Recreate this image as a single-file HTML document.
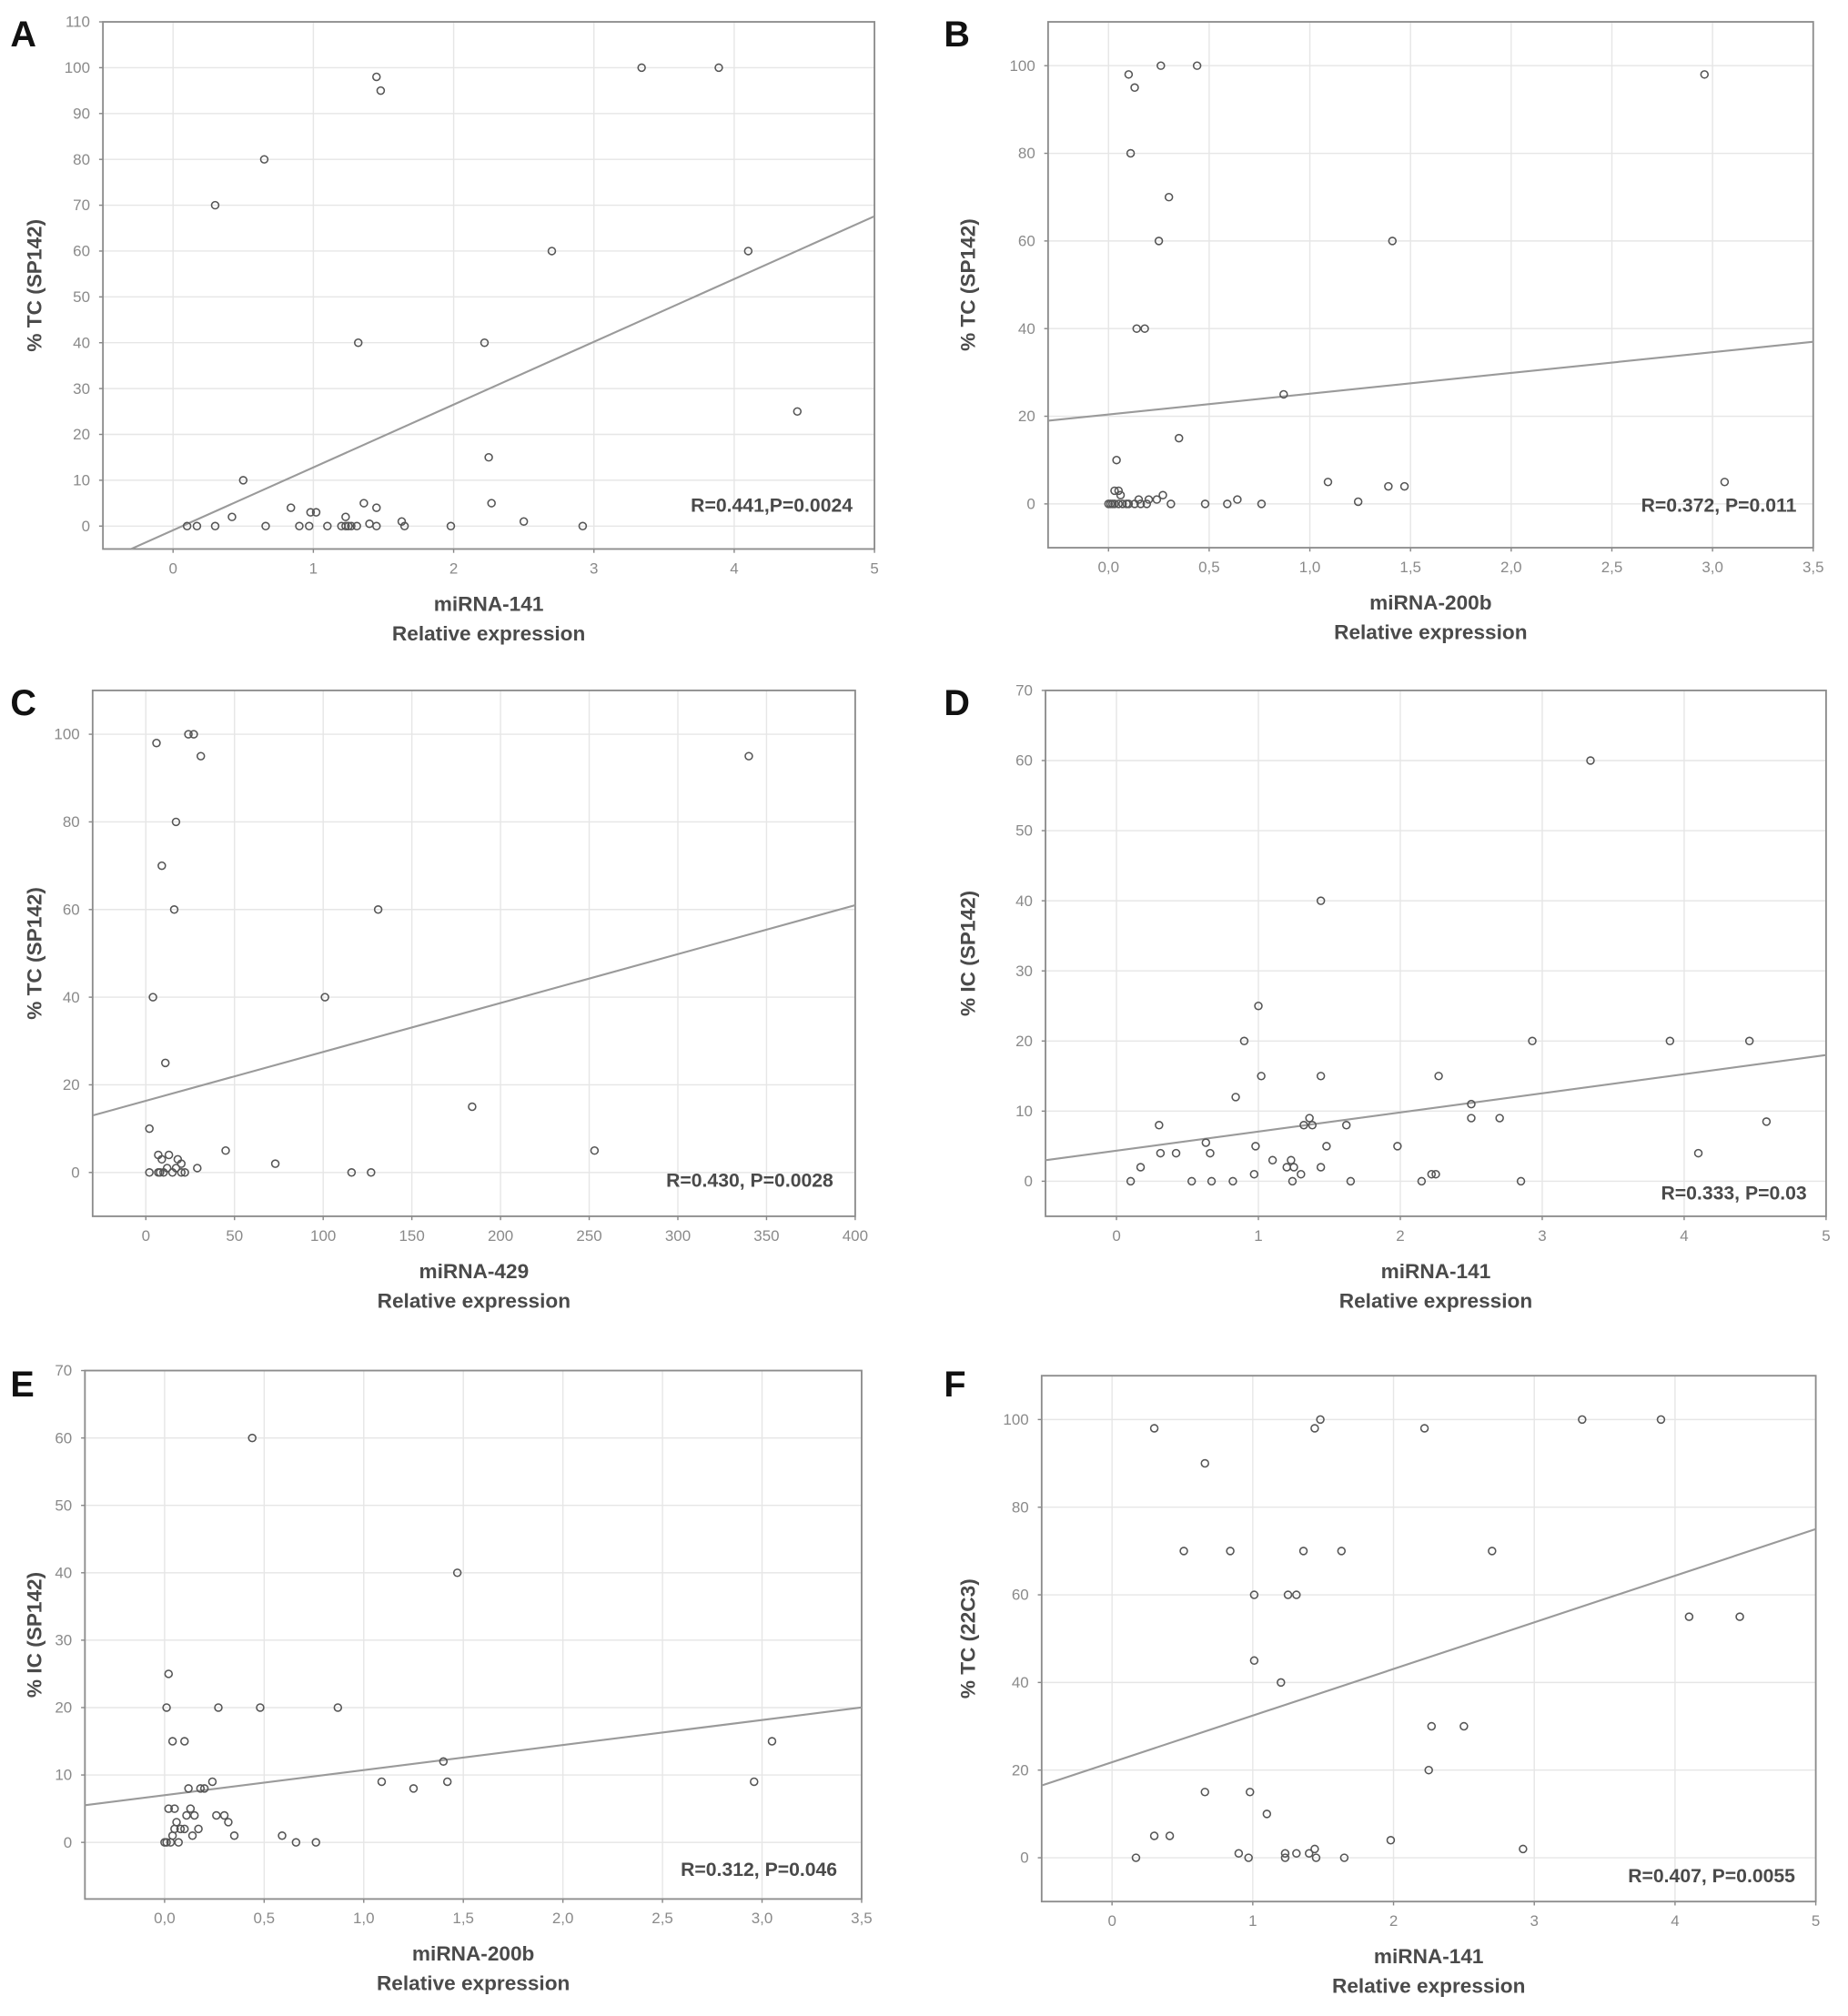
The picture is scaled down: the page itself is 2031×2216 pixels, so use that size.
<!DOCTYPE html>
<html><head><meta charset="utf-8">
<style>
html,body{margin:0;padding:0;background:#fff;}
svg{display:block;}
text{font-family:"Liberation Sans",sans-serif;}
</style></head>
<body>
<svg id="fig" width="2031" height="2216" viewBox="0 0 1437 1568" xmlns="http://www.w3.org/2000/svg"></svg>
<script>
// ---- Data arrays ----
const aX=[0.1,0.17,0.3,0.3,0.42,0.5,0.65,0.66,0.84,0.9,0.97,0.98,1.02,1.1,1.2,1.23,1.23,1.25,1.27,1.31,1.32,1.36,1.4,1.45,1.45,1.45,1.48,1.63,1.65,1.98,2.22,2.25,2.27,2.5,2.7,2.92,3.34,3.89,4.1,4.45];
const aY=[0,0,0,70,2,10,80,0,4,0,0,3,3,0,0,2,0,0,0,0,40,5,0.5,98,4,0,95,1,0,0,40,15,5,1,60,0,100,100,60,25];
const bX=[0.1,0.13,0.26,0.44,0.11,0.3,0.25,1.41,0.14,0.18,0.87,0.35,0.04,0.03,0.05,0.06,0.0,0.01,0.02,0.03,0.05,0.07,0.09,0.1,0.13,0.15,0.16,0.19,0.2,0.24,0.27,0.31,0.48,0.59,0.64,0.76,1.09,1.24,1.39,1.47,2.96,3.06];
const bY=[98,95,100,100,80,70,60,60,40,40,25,15,10,3,3,2,0,0,0,0,0,0,0,0,0,1,0,0,1,1,2,0,0,0,1,0,5,0.5,4,4,98,5];
const cX=[2,2,4,6,7,7,8,9,9,10,11,12,13,15,16,17,17,18,20,20,22,24,27,29,31,45,73,101,116,127,131,184,253,340];
const cY=[10,0,40,98,0,4,0,3,70,0,25,1,4,0,60,80,1,3,2,0,0,100,100,1,95,5,2,40,0,0,60,15,5,95];
const dX=[0.1,0.17,0.3,0.31,0.42,0.53,0.63,0.66,0.67,0.82,0.84,0.9,0.97,0.98,1.0,1.02,1.1,1.2,1.23,1.24,1.25,1.3,1.32,1.36,1.38,1.44,1.44,1.44,1.48,1.62,1.65,1.98,2.15,2.22,2.25,2.27,2.5,2.5,2.7,2.85,2.93,3.34,3.9,4.1,4.46,4.58];
const dY=[0,2,8,4,4,0,5.5,4,0,0,12,20,1,5,25,15,3,2,3,0,2,1,8,9,8,40,15,2,5,8,0,5,0,1,1,15,9,11,9,0,20,60,20,4,20,8.5];
const eX=[0.01,0.02,0.04,0.1,0.02,0.0,0.01,0.03,0.04,0.05,0.05,0.06,0.07,0.08,0.1,0.11,0.12,0.13,0.14,0.15,0.17,0.18,0.2,0.24,0.26,0.27,0.3,0.32,0.35,0.44,0.48,0.59,0.66,0.76,0.87,1.09,1.25,1.4,1.42,1.47,2.96,3.05];
const eY=[20,25,15,15,5,0,0,0,1,5,2,3,0,2,2,4,8,5,1,4,2,8,8,9,4,20,4,3,1,60,20,1,0,0,20,9,8,12,9,40,9,15];
const fX=[0.17,0.3,0.3,0.41,0.51,0.66,0.66,0.84,0.9,0.97,0.98,1.01,1.01,1.1,1.2,1.23,1.23,1.25,1.31,1.31,1.36,1.4,1.44,1.44,1.45,1.48,1.63,1.65,1.98,2.22,2.25,2.27,2.5,2.7,2.92,3.34,3.9,4.1,4.46];
const fY=[0,98,5,5,70,90,15,70,1,0,15,60,45,10,40,1,0,60,60,1,70,1,98,2,0,100,70,0,4,98,20,30,30,70,2,100,100,55,55];
const aXT=[0,1,2,3,4,5], aYT=[0,10,20,30,40,50,60,70,80,90,100,110];
const bXT=[0,0.5,1,1.5,2,2.5,3,3.5], bYT=[0,20,40,60,80,100];
const cXT=[0,50,100,150,200,250,300,350,400], cYT=[0,20,40,60,80,100];
const dXT=[0,1,2,3,4,5], dYT=[0,10,20,30,40,50,60,70];
const eXT=[0,0.5,1,1.5,2,2.5,3,3.5], eYT=[0,10,20,30,40,50,60,70];
const fXT=[0,1,2,3,4,5], fYT=[0,20,40,60,80,100];
const fits={a:[-0.9,13.7],b:[20.4,4.74],c:[16.35,0.1116],d:[4.36,2.727],e:[7.0,3.72],f:[21.8,10.64]};

// ---- Panel layout (in viewBox units) ----
const panels=[
 {id:'a',L:'A',lx:8,ly:36,x0:80,x1:680,y0:17,y1:427,xr:[-0.5,5],yr:[-5,110],X:aX,Y:aY,XT:aXT,YT:aYT,dec:false,yl:'% TC (SP142)',xl:'miRNA-141',st:'R=0.441,P=0.0024',stx:663,sty:398},
 {id:'b',L:'B',lx:734,ly:36,x0:815,x1:1410,y0:17,y1:426,xr:[-0.3,3.5],yr:[-10,110],X:bX,Y:bY,XT:bXT,YT:bYT,dec:true,yl:'% TC (SP142)',xl:'miRNA-200b',st:'R=0.372, P=0.011',stx:1397,sty:398},
 {id:'c',L:'C',lx:8,ly:556,x0:72,x1:665,y0:537,y1:946,xr:[-30,400],yr:[-10,110],X:cX,Y:cY,XT:cXT,YT:cYT,dec:false,yl:'% TC (SP142)',xl:'miRNA-429',st:'R=0.430, P=0.0028',stx:648,sty:923},
 {id:'d',L:'D',lx:734,ly:556,x0:813,x1:1420,y0:537,y1:946,xr:[-0.5,5],yr:[-5,70],X:dX,Y:dY,XT:dXT,YT:dYT,dec:false,yl:'% IC (SP142)',xl:'miRNA-141',st:'R=0.333, P=0.03',stx:1405,sty:933},
 {id:'e',L:'E',lx:8,ly:1086,x0:66,x1:670,y0:1066,y1:1477,xr:[-0.4,3.5],yr:[-8.4,70],X:eX,Y:eY,XT:eXT,YT:eYT,dec:true,yl:'% IC (SP142)',xl:'miRNA-200b',st:'R=0.312, P=0.046',stx:651,sty:1459},
 {id:'f',L:'F',lx:734,ly:1086,x0:810,x1:1412,y0:1070,y1:1479,xr:[-0.5,5],yr:[-10,110],X:fX,Y:fY,XT:fXT,YT:fYT,dec:false,yl:'% TC (22C3)',xl:'miRNA-141',st:'R=0.407, P=0.0055',stx:1396,sty:1464}
];
const NS='http://www.w3.org/2000/svg';
const svg=document.getElementById('fig');
function mk(tag,attrs,parent){const e=document.createElementNS(NS,tag);for(const k in attrs)e.setAttribute(k,attrs[k]);(parent||svg).appendChild(e);return e;}
panels.forEach(p=>{
  const g=mk('g',{});
  
  
  const sx=v=>p.x0+(v-p.xr[0])/(p.xr[1]-p.xr[0])*(p.x1-p.x0);
  const sy=v=>p.y1-(v-p.yr[0])/(p.yr[1]-p.yr[0])*(p.y1-p.y0);
  p.XT.forEach(t=>{const l=mk('line',{x1:sx(t),x2:sx(t),y1:p.y0,y2:p.y1,stroke:'#e6e6e6','stroke-width':1},g);
    
    
    const tx=mk('text',{x:sx(t),y:p.y1+19,'text-anchor':'middle','font-size':12,fill:'#8a8a8a'},g);
    tx.textContent=p.dec?t.toFixed(1).replace('.',','):t;
    
    
    mk('line',{x1:sx(t),x2:sx(t),y1:p.y1,y2:p.y1+3,stroke:'#888'},g);
  });
  p.YT.forEach(t=>{const l=mk('line',{x1:p.x0,x2:p.x1,y1:sy(t),y2:sy(t),stroke:'#e6e6e6','stroke-width':1},g);
    
    
    const tx=mk('text',{x:p.x0-10,y:sy(t)+4,'text-anchor':'end','font-size':12,fill:'#8a8a8a'},g);
    tx.textContent=t;
    
    
    mk('line',{x1:p.x0-3,x2:p.x0,y1:sy(t),y2:sy(t),stroke:'#888'},g);
  });
  const fr=mk('rect',{x:p.x0,y:p.y0,width:p.x1-p.x0,height:p.y1-p.y0,fill:'none',stroke:'#8c8c8c','stroke-width':1.3},g);
  
  
  const [b0,b1]=fits[p.id];
  let xa=p.xr[0],ya=b0+b1*xa,xb=p.xr[1],yb=b0+b1*xb;
  if(ya<p.yr[0]){xa=(p.yr[0]-b0)/b1;ya=p.yr[0];}
  if(yb>p.yr[1]){xb=(p.yr[1]-b0)/b1;yb=p.yr[1];}
  const fl=mk('line',{x1:sx(xa),y1:sy(ya),x2:sx(xb),y2:sy(yb),stroke:'#9a9a9a','stroke-width':1.5},g);
  
  
  p.X.forEach((v,i)=>{const c=mk('circle',{cx:sx(v),cy:sy(p.Y[i]),r:2.8,fill:'none',stroke:'#555','stroke-width':1.1},g);
    
    
  });
  const st=mk('text',{x:p.stx,y:p.sty,'text-anchor':'end','font-size':15,fill:'#4a4a4a','font-weight':'bold'},g);
  st.textContent=p.st;
  
  
  const cx=(p.x0+p.x1)/2;
  const t1=mk('text',{x:cx,y:p.y1+48,'text-anchor':'middle','font-size':16,fill:'#4a4a4a','font-weight':'bold'},g);
  t1.textContent=p.xl;
  
  
  const t2=mk('text',{x:cx,y:p.y1+71,'text-anchor':'middle','font-size':16,fill:'#4a4a4a','font-weight':'bold'},g);
  t2.textContent='Relative expression';
  
  
  const ylx=p.lx+24, cy=(p.y0+p.y1)/2;
  const yl=mk('text',{x:ylx,y:cy,'text-anchor':'middle','font-size':16,fill:'#4a4a4a','font-weight':'bold',transform:`rotate(-90 ${ylx} ${cy})`},g);
  yl.textContent=p.yl;
  
  
  const L=mk('text',{x:p.lx,y:p.ly,'font-size':28,fill:'#111','font-weight':'bold'},g);
  L.textContent=p.L;
  
  
});
</script>
</body></html>
